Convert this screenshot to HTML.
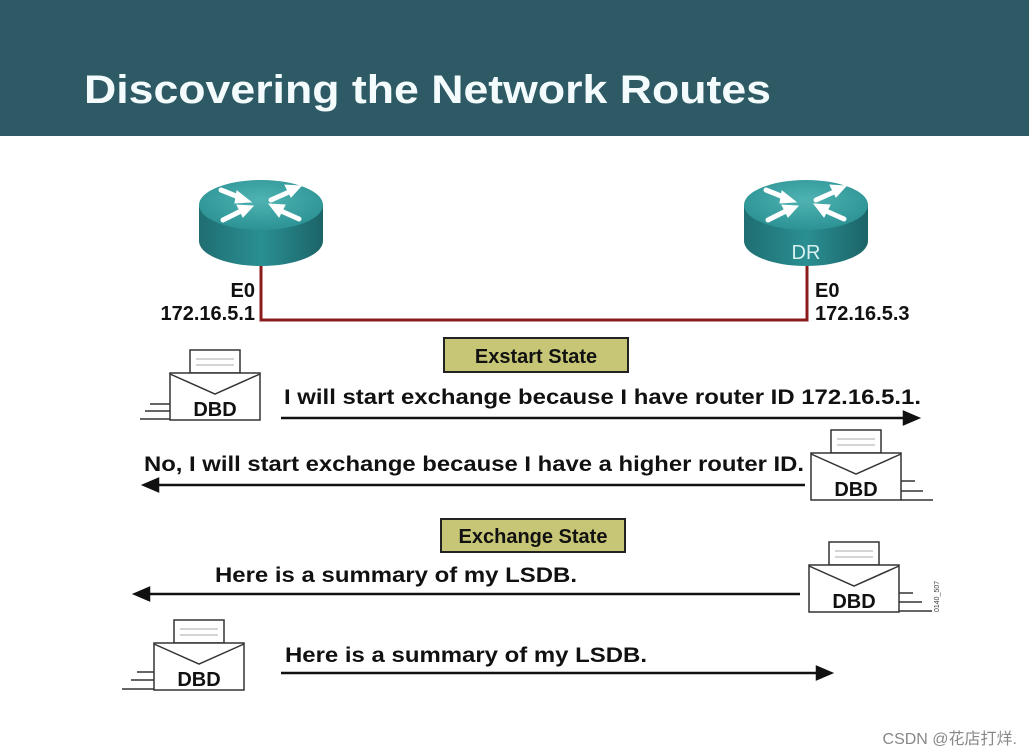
<!DOCTYPE html>
<html><head><meta charset="utf-8"><style>
html,body{margin:0;padding:0;background:#fff;}
svg{display:block;font-family:"Liberation Sans",Arial,sans-serif;}
</style></head><body>
<svg width="1029" height="756" viewBox="0 0 1029 756" xmlns="http://www.w3.org/2000/svg">
<defs>
<linearGradient id="rb" x1="0" x2="1" y1="0" y2="0">
<stop offset="0" stop-color="#1f6e72"/><stop offset="0.5" stop-color="#2a8f92"/><stop offset="1" stop-color="#1c6468"/>
</linearGradient>
<radialGradient id="rt" cx="0.5" cy="0.4" r="0.6">
<stop offset="0" stop-color="#4fb3b2"/><stop offset="1" stop-color="#2c9294"/>
</radialGradient>
<g id="router">
<path d="M-62,0 L-62,36 A62,25 0 0 0 62,36 L62,0 Z" fill="url(#rb)"/>
<ellipse cx="0" cy="0" rx="62" ry="25" fill="url(#rt)"/>
<g stroke="#fff" stroke-width="5" stroke-linecap="round" fill="#fff">
<line x1="-40" y1="-15" x2="-20" y2="-7"/><polygon points="-10,-3 -24,-14 -26,-2" stroke-width="1"/>
<line x1="10" y1="-5" x2="28" y2="-13"/><polygon points="40,-19 24,-20 30,-8" stroke-width="1"/>
<line x1="-38" y1="15" x2="-20" y2="6"/><polygon points="-8,1 -24,0 -18,12" stroke-width="1"/>
<line x1="38" y1="14" x2="20" y2="6"/><polygon points="8,-1 24,0 18,12" stroke-width="1"/>
</g>
</g>
<g id="env">
<rect x="20" y="0" width="50" height="23" fill="#fff" stroke="#333" stroke-width="1.5"/>
<line x1="26" y1="9" x2="64" y2="9" stroke="#aaa"/>
<line x1="26" y1="15" x2="64" y2="15" stroke="#aaa"/>
<rect x="0" y="23" width="90" height="47" fill="#fff" stroke="#333" stroke-width="1.5"/>
<polyline points="0,24 45,44 90,24" fill="none" stroke="#333" stroke-width="1.5"/>
<text x="45" y="66" font-size="20" font-weight="bold" text-anchor="middle" fill="#111">DBD</text>
</g>
</defs>
<rect x="0" y="0" width="1029" height="136" fill="#2d5a64"/>
<text x="84" y="103" font-size="40" font-weight="bold" fill="#f4fbfc" textLength="687" lengthAdjust="spacingAndGlyphs">Discovering the Network Routes</text>

<polyline points="261,262 261,320 807,320 807,262" fill="none" stroke="#8c1c1c" stroke-width="3"/>
<use href="#router" x="261" y="205"/>
<use href="#router" x="806" y="205"/>
<text x="806" y="259" font-size="20" fill="#d8f0f0" text-anchor="middle">DR</text>

<g font-size="20" font-weight="bold" fill="#111">
<text x="255" y="297" text-anchor="end">E0</text>
<text x="255" y="320" text-anchor="end">172.16.5.1</text>
<text x="815" y="297">E0</text>
<text x="815" y="320">172.16.5.3</text>
</g>

<rect x="444" y="338" width="184" height="34" fill="#c6c676" stroke="#222" stroke-width="2"/>
<text x="536" y="363" font-size="20" font-weight="bold" text-anchor="middle" fill="#111">Exstart State</text>
<rect x="441" y="519" width="184" height="33" fill="#c6c676" stroke="#222" stroke-width="2"/>
<text x="533" y="543" font-size="20" font-weight="bold" text-anchor="middle" fill="#111">Exchange State</text>

<g stroke="#333" stroke-width="1.5">
<line x1="150" y1="404" x2="170" y2="404"/><line x1="145" y1="411" x2="170" y2="411"/><line x1="140" y1="419" x2="170" y2="419"/>
<line x1="901" y1="481" x2="915" y2="481"/><line x1="901" y1="491" x2="923" y2="491"/><line x1="901" y1="500" x2="933" y2="500"/>
<line x1="898" y1="593" x2="913" y2="593"/><line x1="898" y1="602" x2="922" y2="602"/><line x1="898" y1="611" x2="932" y2="611"/>
<line x1="137" y1="672" x2="154" y2="672"/><line x1="131" y1="680" x2="154" y2="680"/><line x1="122" y1="689" x2="154" y2="689"/>
</g>
<use href="#env" x="170" y="350"/>
<use href="#env" x="811" y="430"/>
<use href="#env" x="809" y="542"/>
<use href="#env" x="154" y="620"/>
<text transform="translate(939,612) rotate(-90)" font-size="7" fill="#444">0140_507</text>

<g stroke="#111" stroke-width="2.5" fill="#111">
<line x1="281" y1="418" x2="908" y2="418"/><polygon points="918,418 904,412 904,424"/>
<line x1="155" y1="485" x2="805" y2="485"/><polygon points="144,485 158,479 158,491"/>
<line x1="146" y1="594" x2="800" y2="594"/><polygon points="135,594 149,588 149,600"/>
<line x1="281" y1="673" x2="820" y2="673"/><polygon points="831,673 817,667 817,679"/>
</g>
<g font-size="21" font-weight="bold" fill="#111">
<text x="284" y="404" textLength="637" lengthAdjust="spacingAndGlyphs">I will start exchange because I have router ID 172.16.5.1.</text>
<text x="144" y="471" textLength="660" lengthAdjust="spacingAndGlyphs">No, I will start exchange because I have a higher router ID.</text>
<text x="215" y="582" textLength="362" lengthAdjust="spacingAndGlyphs">Here is a summary of my LSDB.</text>
<text x="285" y="662" textLength="362" lengthAdjust="spacingAndGlyphs">Here is a summary of my LSDB.</text>
</g>
<text x="1017" y="744" font-size="16" fill="#888" text-anchor="end" font-family="Liberation Sans, Noto Sans CJK SC, sans-serif">CSDN @花店打烊.</text>
</svg>
</body></html>
